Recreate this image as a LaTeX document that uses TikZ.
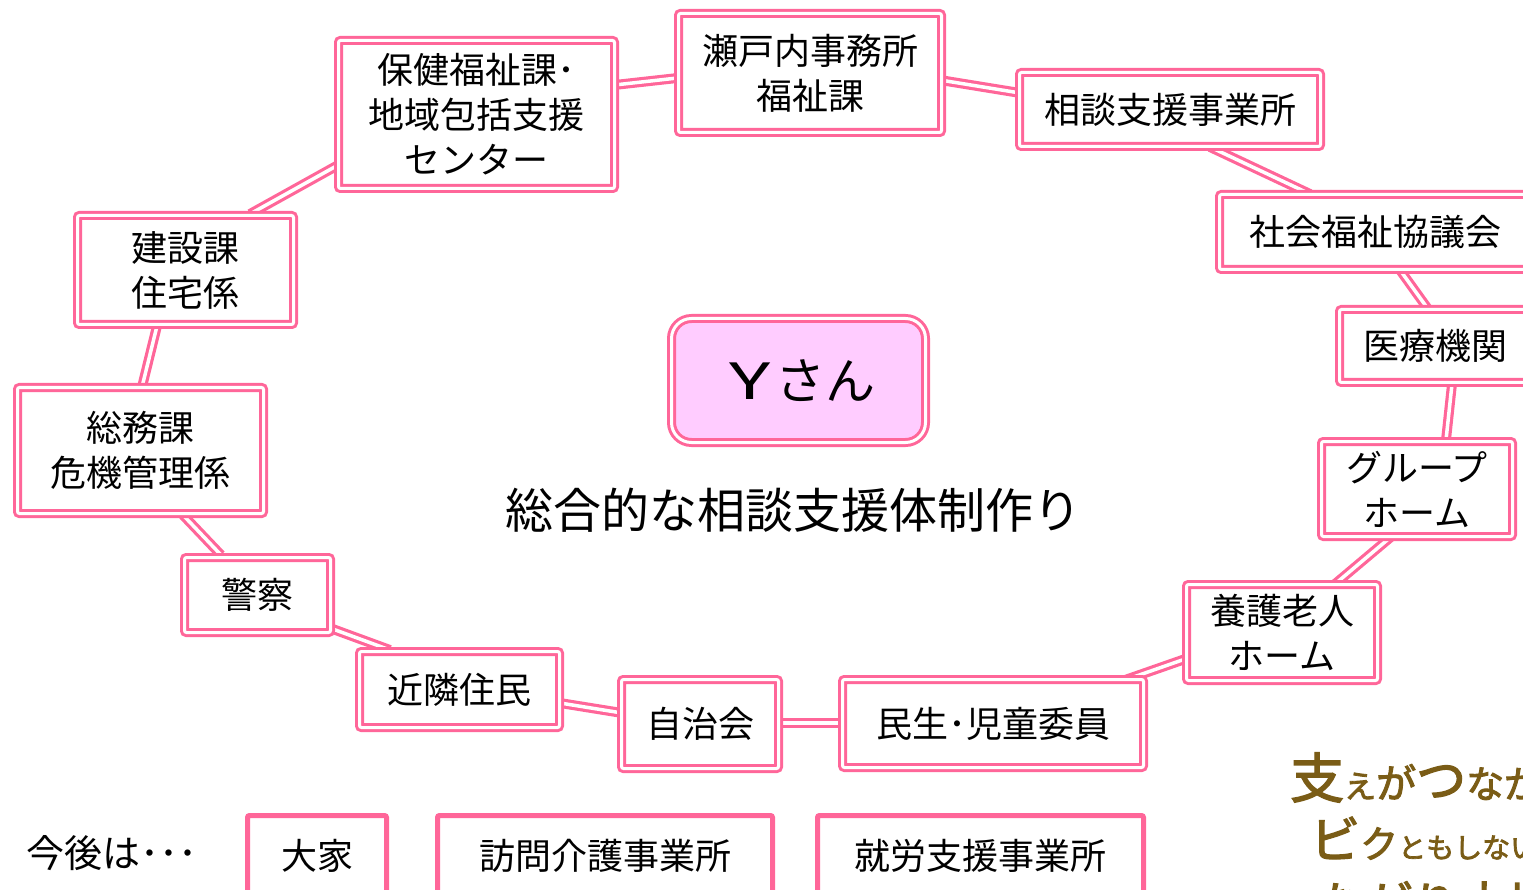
\documentclass[tikz,border=0pt]{standalone}
\usepackage{fontspec}
\usepackage{graphicx}
\setmainfont{Noto Sans CJK JP}
\newfontfamily\handfont[FakeBold=2.5]{Noto Sans CJK JP}
\usetikzlibrary{backgrounds,calc}
\definecolor{pk}{RGB}{255,102,153}
\definecolor{yfill}{RGB}{255,204,255}
\definecolor{hb}{RGB}{122,92,22}
\begin{document}
\begin{tikzpicture}[x=1pt,y=-1pt,
  box/.style={draw=pk, line width=3pt, double=white, double distance=3pt, fill=white,
    rounded corners=2pt, inner sep=0pt, align=center, font=\fontsize{36}{45}\selectfont},
  conn/.style={draw=pk, line width=3.2pt, double=white, double distance=3.5pt},
  sbox/.style={draw=pk, line width=5pt, fill=white, rounded corners=2pt, inner sep=0pt,
    font=\fontsize{36}{45}\selectfont, minimum height=80pt},
  lbl/.style={inner sep=0pt}
]
\useasboundingbox (0,0) rectangle (1523,890);
\clip (0,0) rectangle (1523,890);

% boxes of the ring
\node[box, minimum width=276pt, minimum height=148pt] (hoken) at (476.5,114.5) {保健福祉課･\\地域包括支援\\センター};
\node[box, minimum width=263pt, minimum height=119pt] (seto) at (810,73) {瀬戸内事務所\\福祉課};
\node[box, minimum width=301pt, minimum height=74pt] (soudan) at (1170,109.5) {相談支援事業所};
\node[box, minimum width=311pt, minimum height=75pt] (shakai) at (1375,232) {社会福祉協議会};
\node[box, minimum width=191pt, minimum height=73pt] (iryo) at (1435,346) {医療機関};
\node[box, minimum width=191pt, minimum height=95pt] (group) at (1417,489) {グループ\\ホーム};
\node[box, minimum width=191pt, minimum height=96pt] (yougo) at (1282,632.5) {養護老人\\ホーム};
\node[box, minimum width=301pt, minimum height=88pt] (minsei) at (993,723.5) {民生･児童委員};
\node[box, minimum width=157pt, minimum height=89pt] (jichi) at (700,724) {自治会};
\node[box, minimum width=200pt, minimum height=76pt] (kinrin) at (459.5,689.5) {近隣住民};
\node[box, minimum width=146pt, minimum height=75pt] (keisatsu) at (257.5,595) {警察};
\node[box, minimum width=246pt, minimum height=126pt] (soumu) at (140.5,450.5) {総務課\\危機管理係};
\node[box, minimum width=216pt, minimum height=109pt] (kensetsu) at (185.5,270) {建設課\\住宅係};

% centre
\node[draw=pk, line width=3pt, double=white, double distance=3pt, fill=yfill,
  rounded corners=20pt, minimum width=254pt, minimum height=124pt, inner sep=0pt,
  font=\fontsize{50}{50}\selectfont] (y) at (798.5,380.5) {\hspace{8pt}\scalebox{1.55}[1]{Y}\hspace{4pt}さん};
\node[lbl, font=\fontsize{48}{48}\selectfont] (title) at (793,510) {総合的な相談支援体制作り};

% connectors
\begin{pgfonlayer}{background}
\draw[conn] ($(hoken.center)+(133.5,-29)$) -- ($(seto.center)+(-128,4.5)$);
\draw[conn] ($(seto.center)+(130,7)$) -- ($(soudan.center)+(-150,-16.5)$);
\draw[conn] ($(soudan.center)+(40,37.5)$) -- ($(shakai.center)+(-65,-38)$);
\draw[conn] ($(shakai.center)+(25,38)$) -- ($(iryo.center)+(-7,-37)$);
\draw[conn] ($(iryo.center)+(17,38)$) -- ($(group.center)+(29,-49)$);
\draw[conn] ($(group.center)+(-25,47)$) -- ($(yougo.center)+(53,-48.5)$);
\draw[conn] ($(yougo.center)+(-94,25.5)$) -- ($(minsei.center)+(132,-43.5)$);
\draw[conn] ($(minsei.center)+(-151,-0.5)$) -- ($(jichi.center)+(78,-1)$);
\draw[conn] ($(jichi.center)+(-78,-11)$) -- ($(kinrin.center)+(100.5,13.5)$);
\draw[conn] ($(kinrin.center)+(-69.5,-39.5)$) -- ($(keisatsu.center)+(72.5,33)$);
\draw[conn] ($(keisatsu.center)+(-36.5,-40)$) -- ($(soumu.center)+(42.5,64.5)$);
\draw[conn] ($(soumu.center)+(1.5,-63.5)$) -- ($(kensetsu.center)+(-28.5,56)$);
\draw[conn] ($(kensetsu.center)+(64.5,-56)$) -- ($(hoken.center)+(-136.5,49.5)$);
\end{pgfonlayer}

% bottom row
\node[lbl, font=\fontsize{38}{38}\selectfont] (kongo) at (112,853) {今後は･･･};
\node[sbox, minimum width=139pt] (ooya) at (317,855.5) {大家};
\node[sbox, minimum width=335pt] (houmon) at (605,855.5) {訪問介護事業所};
\node[sbox, minimum width=326pt] (shuro) at (980.5,855.5) {就労支援事業所};

% handwritten phrase
\node[lbl, anchor=base west, text=hb, font=\handfont] (h1) at (1290,798)
  {{\fontsize{54}{54}\selectfont 支}{\fontsize{32}{32}\selectfont え}{\fontsize{40}{40}\selectfont が}{\fontsize{50}{50}\selectfont つ}{\fontsize{38}{38}\selectfont なが}};
\node[lbl, anchor=base west, text=hb, font=\handfont] (h2) at (1310,858)
  {{\fontsize{50}{50}\selectfont ビ}{\fontsize{38}{38}\selectfont ク}{\fontsize{28}{28}\selectfont ともしない}};
\node[lbl, anchor=base west, text=hb, font=\handfont] (h3) at (1268,922)
  {{\fontsize{48}{48}\selectfont つながり大切}};
\end{tikzpicture}
\end{document}
